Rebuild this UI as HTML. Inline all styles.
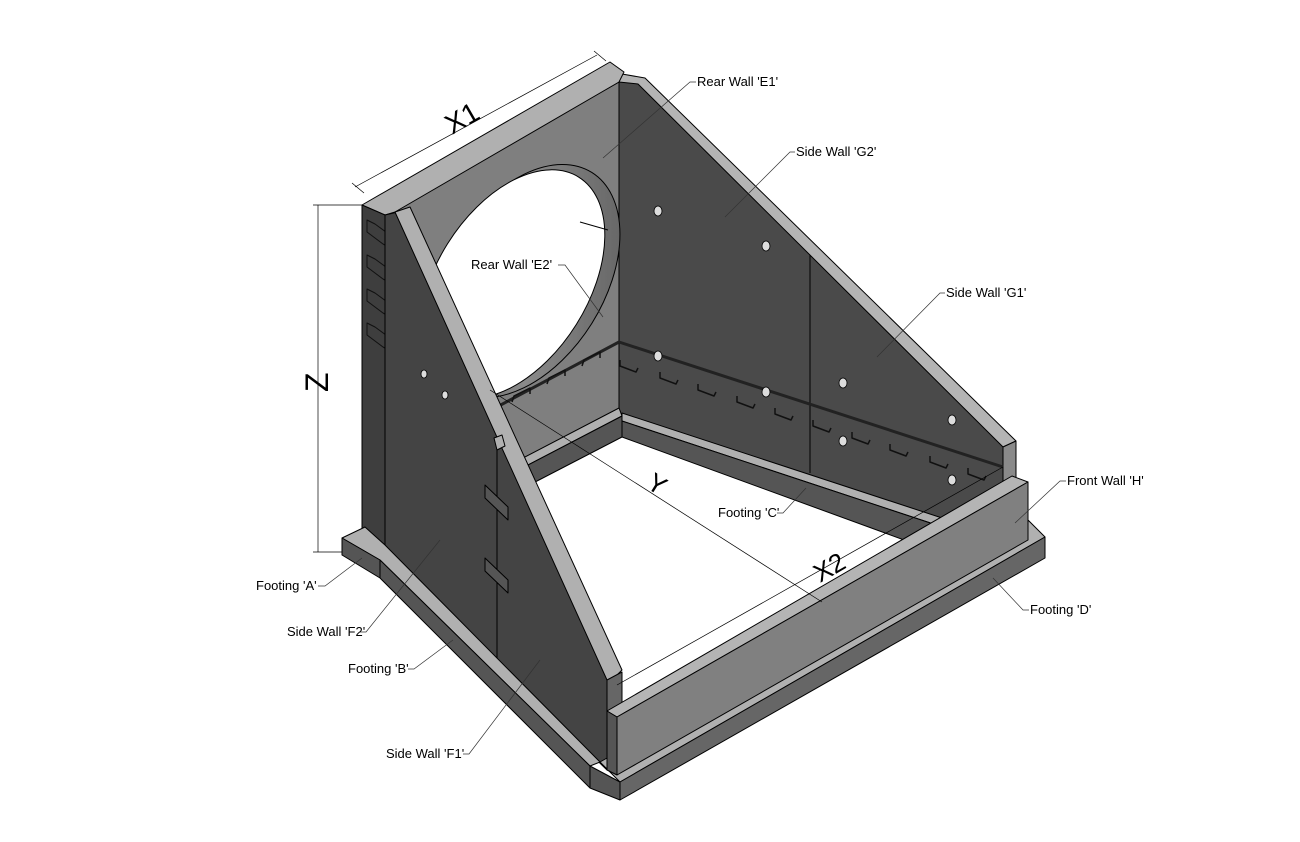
<!DOCTYPE html>
<html><head><meta charset="utf-8"><style>
html,body{margin:0;padding:0;background:#fff}
svg{display:block}
text{font-family:"Liberation Sans",sans-serif;font-size:13px;fill:#000}
</style></head><body>
<svg width="1300" height="842" viewBox="0 0 1300 842" xmlns="http://www.w3.org/2000/svg">
<defs>
<linearGradient id="cyl" x1="0" y1="0" x2="1" y2="1">
<stop offset="0" stop-color="#3a3a3a"/><stop offset="0.5" stop-color="#8a8a8a"/><stop offset="1" stop-color="#5a5a5a"/>
</linearGradient>
</defs>
<g stroke="#000" stroke-width="1" stroke-linejoin="round">
<polygon points="619,80 640,80 1003,442 1003,540 619,415" fill="#4a4a4a"/>
<polygon points="622,74 645,78 1016,441 1003,447 638,84 619,82" fill="#b4b4b4"/>
<polygon points="1003,447 1016,441 1016,478 1003,484" fill="#8a8a8a"/>
<line x1="810" y1="255" x2="810" y2="473"/>
<polygon points="385,215 619,82 619,415 500,478 385,420" fill="#7f7f7f"/>
<ellipse cx="524" cy="281" rx="128" ry="80" transform="rotate(-58 524 281)" fill="url(#cyl)"/>
<ellipse cx="512" cy="284" rx="126" ry="76" transform="rotate(-58 512 284)" fill="#fff"/>
<line x1="580" y1="222" x2="608" y2="230"/>
<polygon points="362,205 610,62 624,72 619,82 395,212 385,215" fill="#b0b0b0"/>
<polygon points="500,470 619,408 622,416 503,478" fill="#b0b0b0"/>
<polygon points="503,478 622,416 622,437 510,495" fill="#555"/>
<polygon points="622,413 1000,537 1000,546 622,421" fill="#b0b0b0"/>
<polygon points="622,421 1000,546 1000,575 622,437" fill="#555"/>
<polyline points="495,408 619,342 1003,467" fill="none" stroke="#222" stroke-width="3"/>
<g fill="none" stroke="#111" stroke-width="1.5">
<path d="M620,360 l0,6 l16,6 l2,-4"/><path d="M660,372 l0,6 l16,6 l2,-4"/><path d="M698,384 l0,6 l16,6 l2,-4"/><path d="M737,396 l0,6 l16,6 l2,-4"/><path d="M775,408 l0,6 l16,6 l2,-4"/><path d="M813,420 l0,6 l16,6 l2,-4"/><path d="M852,432 l0,6 l16,6 l2,-4"/><path d="M890,444 l0,6 l16,6 l2,-4"/><path d="M930,456 l0,6 l16,6 l2,-4"/><path d="M968,468 l0,6 l16,6 l2,-4"/>
<path d="M600,358 l0,-6 l-16,8 l-2,6"/><path d="M565,376 l0,-6 l-16,8 l-2,6"/><path d="M530,394 l0,-6 l-16,8 l-2,6"/>
</g>
<g fill="#ddd" stroke="#000" stroke-width="0.8">
<ellipse cx="658" cy="211" rx="4" ry="5"/><ellipse cx="766" cy="246" rx="4" ry="5"/><ellipse cx="658" cy="356" rx="4" ry="5"/><ellipse cx="766" cy="392" rx="4" ry="5"/><ellipse cx="843" cy="383" rx="4" ry="5"/><ellipse cx="952" cy="420" rx="4" ry="5"/><ellipse cx="843" cy="441" rx="4" ry="5"/><ellipse cx="952" cy="480" rx="4" ry="5"/>
</g>
<polygon points="362,205 385,215 385,555 362,540" fill="#3e3e3e"/>
<g fill="none" stroke="#111" stroke-width="1">
<polygon points="367,220 375,224 394,238 394,250 383,244 367,232"/>
<polygon points="367,255 375,259 394,273 394,285 383,279 367,267"/>
<polygon points="367,289 375,293 394,307 394,319 383,313 367,301"/>
<polygon points="367,323 375,327 394,341 394,353 383,347 367,335"/>
</g>
<polygon points="385,215 398,212 610,680 607,770 385,555" fill="#444"/>
<line x1="497" y1="448" x2="497" y2="658"/>
<polygon points="485,485 508,507 508,520 485,498" fill="#555"/>
<polygon points="485,558 508,580 508,593 485,571" fill="#555"/>
<g fill="#ddd" stroke-width="0.8"><ellipse cx="424" cy="374" rx="3" ry="4"/><ellipse cx="445" cy="395" rx="3" ry="4"/></g>
<polygon points="395,212 410,207 622,670 612,680 607,680" fill="#b0b0b0"/>
<polygon points="607,680 622,672 622,772 607,770" fill="#666"/>
<polygon points="494,438 502,435 505,446 497,450" fill="#b0b0b0"/>
<polygon points="342,538 365,527 385,545 600,762 590,766 380,560" fill="#b0b0b0"/>
<polygon points="342,538 380,560 590,766 620,782 620,800 590,788 380,578 342,555" fill="#555"/>
<line x1="380" y1="560" x2="380" y2="578"/><line x1="590" y1="766" x2="590" y2="788"/>
<polygon points="600,762 1028,520 1045,537 620,782" fill="#b0b0b0"/>
<polygon points="620,782 1045,537 1045,558 620,800" fill="#666"/>
<polygon points="607,711 1012,476 1028,482 617,717" fill="#b4b4b4"/>
<polygon points="607,711 617,717 617,775 607,770" fill="#555"/>
<polygon points="617,717 1028,482 1028,540 617,775" fill="#808080"/>
</g>
<g stroke="#000" stroke-width="0.7" fill="none">
<line x1="355" y1="187" x2="597" y2="55"/><line x1="352" y1="183" x2="364" y2="193"/><line x1="594" y1="51" x2="606" y2="61"/>
<line x1="318" y1="205" x2="318" y2="552"/><line x1="313" y1="205" x2="362" y2="205"/><line x1="313" y1="552" x2="342" y2="552"/>
<line x1="490" y1="390" x2="822" y2="602"/>
<line x1="617" y1="685" x2="1003" y2="467"/>
</g>
<text transform="translate(452,135) rotate(-30)" style="font-size:28px">X1</text>
<text transform="translate(328,392) rotate(-90)" style="font-size:32px">Z</text>
<text transform="translate(645,487) rotate(32)" style="font-size:26px">Y</text>
<text transform="translate(820,583) rotate(-30)" style="font-size:26px">X2</text>
<g stroke="#333" stroke-width="0.7" fill="none">
<polyline points="696,82 690,82 603,158"/><polyline points="795,152 790,152 725,217"/><polyline points="558,265 565,265 603,317"/><polyline points="945,293 940,293 877,357"/><polyline points="1066,481 1060,481 1015,523"/><polyline points="777,513 783,513 806,488"/><polyline points="1029,610 1023,610 993,578"/><polyline points="318,586 325,586 362,558"/><polyline points="360,632 366,632 440,540"/><polyline points="408,669 414,669 453,640"/><polyline points="463,754 469,754 540,660"/>
</g>
<text x="697" y="86">Rear Wall 'E1'</text>
<text x="796" y="156">Side Wall 'G2'</text>
<text x="471" y="269">Rear Wall 'E2'</text>
<text x="946" y="297">Side Wall 'G1'</text>
<text x="1067" y="485">Front Wall 'H'</text>
<text x="718" y="517">Footing 'C'</text>
<text x="1030" y="614">Footing 'D'</text>
<text x="256" y="590">Footing 'A'</text>
<text x="287" y="636">Side Wall 'F2'</text>
<text x="348" y="673">Footing 'B'</text>
<text x="386" y="758">Side Wall 'F1'</text>
</svg>
</body></html>
